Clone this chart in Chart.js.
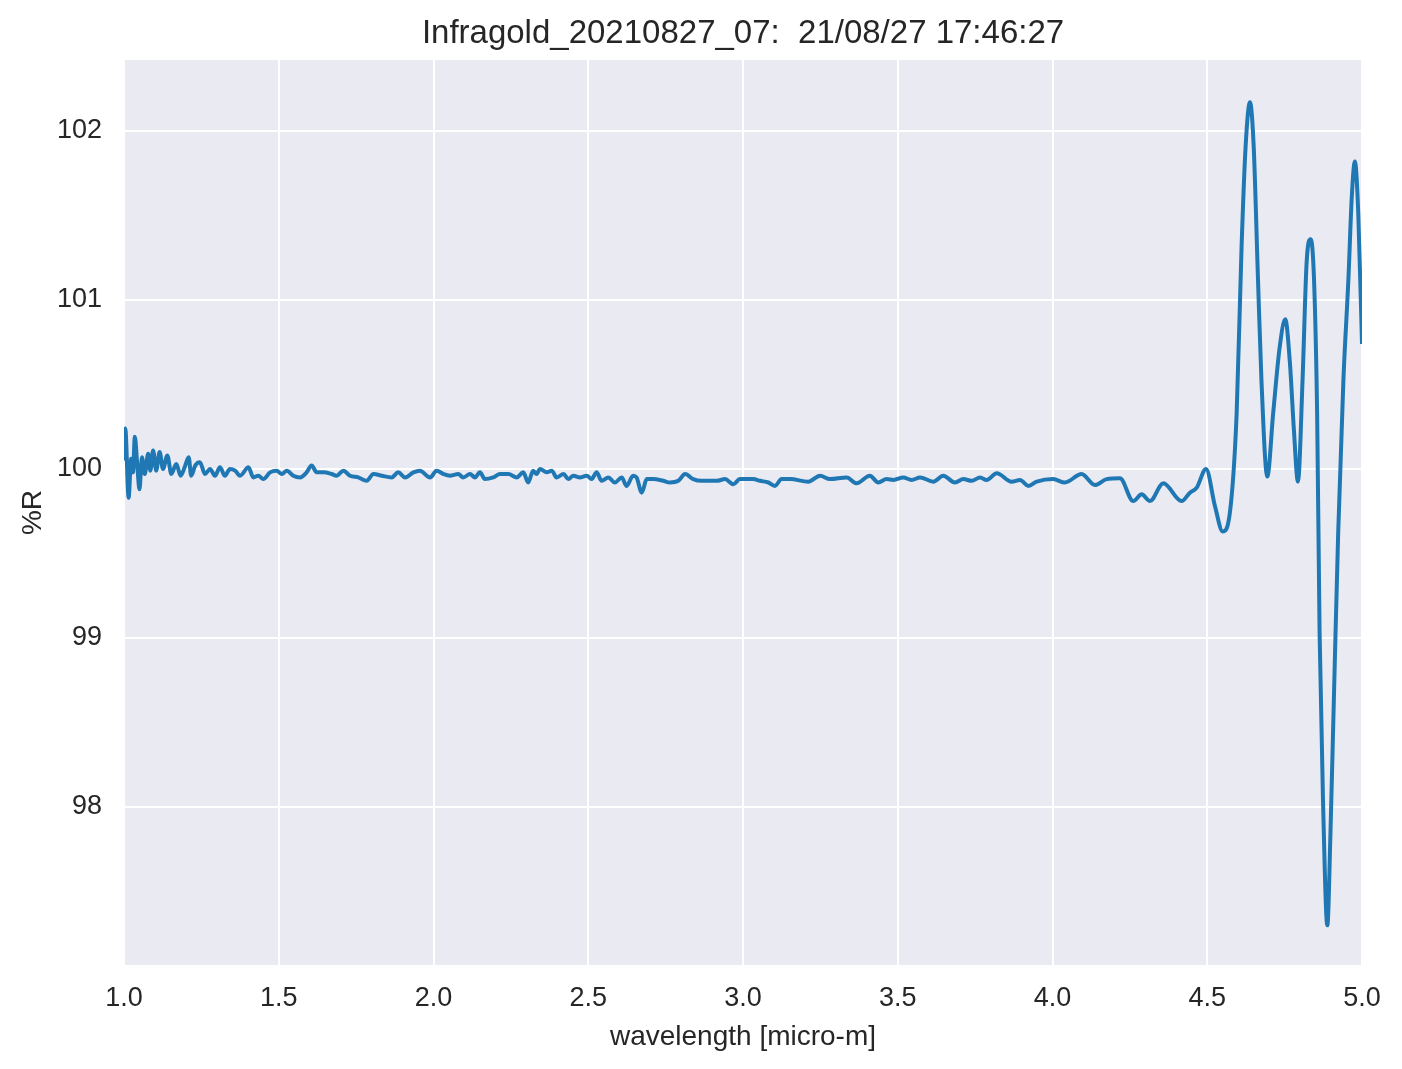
<!DOCTYPE html>
<html>
<head>
<meta charset="utf-8">
<script src="https://cdn.jsdelivr.net/npm/chart.js@4/dist/chart.umd.min.js"></script>
<style>
  html, body { margin: 0; padding: 0; background: #ffffff; }
  #wrap { width: 1402px; height: 1069px; }
</style>
</head>
<body>
<div id="wrap"><canvas id="chart" width="1402" height="1069"></canvas></div>
<script>
const chartTitle = "Infragold_20210827_07:  21/08/27 17:46:27"

// wavelength in micro-m
const wavelength = [
  1.000, 1.004, 1.015, 1.023, 1.029, 1.035, 1.043, 1.050, 1.058, 1.067,
  1.078, 1.085, 1.094, 1.104, 1.115, 1.126, 1.140, 1.153, 1.169, 1.183,
  1.196, 1.209, 1.217, 1.230, 1.245, 1.262, 1.278, 1.294, 1.310, 1.326,
  1.342, 1.359, 1.375, 1.402, 1.418, 1.434, 1.450, 1.472, 1.493, 1.510,
  1.526, 1.547, 1.569, 1.590, 1.606, 1.623, 1.644, 1.671, 1.687, 1.709,
  1.730, 1.757, 1.784, 1.806, 1.833, 1.865, 1.886, 1.908, 1.935, 1.956,
  1.989, 2.010, 2.032, 2.053, 2.080, 2.096, 2.118, 2.134, 2.150, 2.166,
  2.193, 2.215, 2.242, 2.269, 2.290, 2.306, 2.322, 2.333, 2.344, 2.366,
  2.382, 2.398, 2.420, 2.436, 2.452, 2.473, 2.495, 2.511, 2.527, 2.543,
  2.565, 2.586, 2.608, 2.624, 2.645, 2.656, 2.673, 2.689, 2.710, 2.742,
  2.764, 2.791, 2.813, 2.839, 2.867, 2.888, 2.915, 2.942, 2.969, 2.990,
  3.033, 3.055, 3.082, 3.103, 3.125, 3.152, 3.211, 3.249, 3.281, 3.335,
  3.367, 3.410, 3.437, 3.464, 3.486, 3.518, 3.545, 3.572, 3.615, 3.647,
  3.685, 3.712, 3.739, 3.766, 3.787, 3.820, 3.868, 3.895, 3.922, 3.949,
  4.002, 4.040, 4.094, 4.137, 4.175, 4.218, 4.261, 4.288, 4.315, 4.358,
  4.417, 4.444, 4.466, 4.496, 4.525, 4.550, 4.573, 4.595, 4.611, 4.624,
  4.638, 4.650, 4.664, 4.675, 4.694, 4.713, 4.734, 4.752, 4.767, 4.780,
  4.793, 4.808, 4.821, 4.834, 4.845, 4.855, 4.863, 4.874, 4.888, 4.898,
  4.909, 4.923, 4.940, 4.956, 4.967, 4.977, 4.988, 5.000
]

// reflectance in %
const reflectance = [
  100.05, 100.24, 99.83, 100.06, 99.98, 100.19, 100.02, 99.88, 100.07, 99.97,
  100.09, 99.99, 100.11, 99.99, 100.10, 100.00, 100.08, 99.97, 100.03, 99.96,
  100.01, 100.07, 99.96, 100.02, 100.04, 99.97, 100.00, 99.96, 100.01, 99.96,
  100.00, 99.99, 99.96, 100.01, 99.95, 99.96, 99.94, 99.98, 99.99, 99.97,
  99.99, 99.96, 99.95, 99.98, 100.02, 99.98, 99.98, 99.97, 99.96, 99.99,
  99.96, 99.95, 99.93, 99.97, 99.96, 99.95, 99.98, 99.95, 99.98, 99.99,
  99.95, 99.99, 99.97, 99.96, 99.97, 99.95, 99.97, 99.95, 99.98, 99.94,
  99.95, 99.97, 99.97, 99.95, 99.98, 99.92, 99.99, 99.97, 100.00, 99.98,
  99.99, 99.95, 99.97, 99.94, 99.96, 99.95, 99.96, 99.94, 99.98, 99.93,
  99.95, 99.92, 99.95, 99.90, 99.96, 99.95, 99.86, 99.94, 99.94, 99.93,
  99.92, 99.93, 99.97, 99.94, 99.93, 99.93, 99.93, 99.94, 99.91, 99.94,
  99.94, 99.93, 99.92, 99.90, 99.94, 99.94, 99.925, 99.96, 99.94, 99.95,
  99.915, 99.96, 99.92, 99.94, 99.935, 99.95, 99.935, 99.95, 99.925, 99.96,
  99.92, 99.94, 99.93, 99.95, 99.935, 99.975, 99.925, 99.935, 99.90, 99.925,
  99.94, 99.92, 99.97, 99.905, 99.94, 99.945, 99.81, 99.85, 99.81, 99.915,
  99.81, 99.86, 99.89, 100.00, 99.78, 99.63, 99.74, 100.33, 101.32, 101.91,
  102.17, 101.91, 101.12, 100.53, 99.955, 100.33, 100.72, 100.886, 100.63, 100.23,
  99.925, 100.53, 101.22, 101.36, 101.12, 100.33, 99.03, 98.04, 97.30, 97.84,
  98.63, 99.62, 100.53, 101.12, 101.61, 101.82, 101.51, 100.74
]

const xTicks = [1.0, 1.5, 2.0, 2.5, 3.0, 3.5, 4.0, 4.5, 5.0]
const yTicks = [98, 99, 100, 101, 102]

const textColor = "#262626"
const fontName = "'Liberation Sans', Arial, sans-serif"

const plotBackground = {
    id: "plotBackground",
    beforeDraw(chart){
        const {ctx, chartArea} = chart
        ctx.save()
        ctx.fillStyle = "#EAEAF2"
        ctx.fillRect(chartArea.left, chartArea.top, chartArea.right - chartArea.left, chartArea.bottom - chartArea.top)
        ctx.restore()
    }
}

// title centred over the axes, like matplotlib does it
const axesTitle = {
    id: "axesTitle",
    afterDraw(chart){
        const {ctx, chartArea} = chart
        ctx.save()
        ctx.fillStyle = textColor
        ctx.font = "33px " + fontName
        ctx.textAlign = "center"
        ctx.textBaseline = "middle"
        ctx.fillText(chartTitle, (chartArea.left + chartArea.right) / 2, 34)
        ctx.restore()
    }
}

const points = wavelength.map((w, i) => ({x: w, y: reflectance[i]}))

const ctx = document.getElementById("chart").getContext("2d")
const myChart = new Chart(ctx, {
    type: "line",
    data: {
        datasets: [{
            data: points,
            borderColor: "#1f77b4",
            borderWidth: 4,
            pointRadius: 0,
            fill: false,
            cubicInterpolationMode: "monotone"
        }]
    },
    options: {
        responsive: false,
        animation: false,
        devicePixelRatio: 1,
        layout: { padding: { left: 0, right: 40, top: 60, bottom: 0 } },
        plugins: {
            legend: { display: false },
            tooltip: { enabled: false },
            title: { display: false }
        },
        scales: {
            x: {
                type: "linear",
                min: 1.0,
                max: 5.0,
                border: { display: false },
                grid: { color: "#ffffff", lineWidth: 2, drawTicks: false },
                afterBuildTicks: axis => { axis.ticks = xTicks.map(v => ({value: v})) },
                afterFit: axis => { axis.height = 104 },
                ticks: {
                    color: textColor,
                    padding: 17,
                    maxRotation: 0,
                    font: { family: fontName, size: 27 },
                    callback: v => v.toFixed(1)
                },
                title: {
                    display: true,
                    text: "wavelength [micro-m]",
                    color: textColor,
                    font: { family: fontName, size: 28 },
                    padding: { top: 0, bottom: 15 }
                }
            },
            y: {
                type: "linear",
                min: 97.065,
                max: 102.42,
                border: { display: false },
                grid: { color: "#ffffff", lineWidth: 2, drawTicks: false },
                afterBuildTicks: axis => { axis.ticks = yTicks.map(v => ({value: v})) },
                afterFit: axis => { axis.width = 124 },
                ticks: {
                    color: textColor,
                    padding: 22,
                    font: { family: fontName, size: 27 },
                    callback: v => String(v)
                },
                title: {
                    display: true,
                    text: "%R",
                    color: textColor,
                    font: { family: fontName, size: 28 },
                    padding: { top: 16, bottom: 0 }
                }
            }
        }
    },
    plugins: [plotBackground, axesTitle]
})
</script>
</body>
</html>
